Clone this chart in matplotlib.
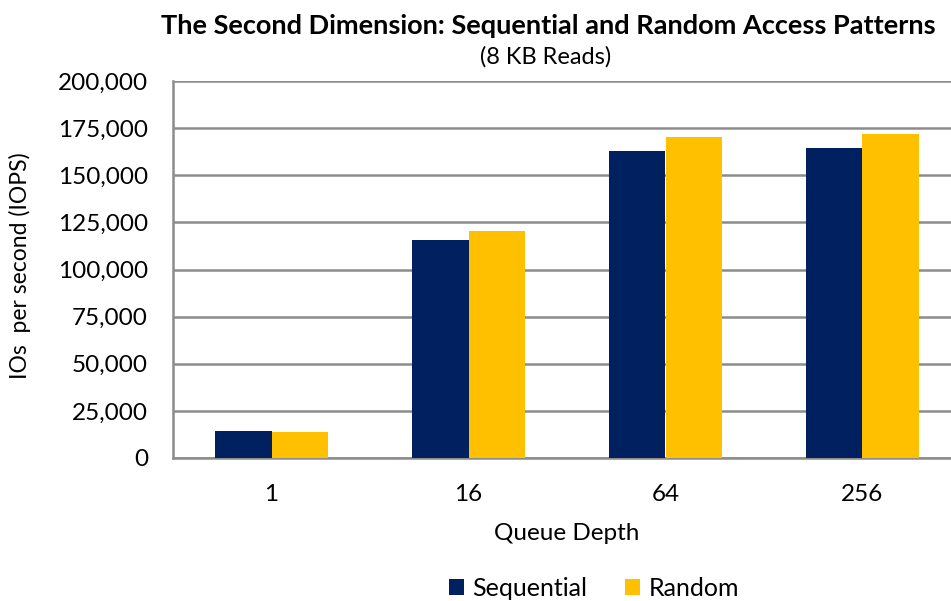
import numpy as np
import matplotlib
matplotlib.use('Agg')
import matplotlib.pyplot as plt
from matplotlib.ticker import FuncFormatter

# queue depths and IOPS
queue_depths = ['1', '16', '64', '256']
sequential = [14300, 115800, 163100, 164700]
random_io = [13800, 120200, 170200, 172000]

navy = '#002060'
gold = '#FFC000'
grid_gray = '#8c8c8c'

plt.rcParams['font.family'] = ['Lato', 'DejaVu Sans']

fig = plt.figure(figsize=(9.51, 6.01), dpi=100)
# plot area runs off the right edge, like the original
ax = fig.add_axes([173 / 951, (601 - 458) / 601, 788 / 951, 377 / 601])

x = np.arange(len(queue_depths))
w = 0.285
ax.bar(x - w / 2, sequential, w, color=navy, label='Sequential', zorder=3)
ax.bar(x + w / 2, random_io, w, color=gold, label='Random', zorder=3)

ax.set_xlim(-0.5, len(queue_depths) - 0.5)
ax.set_ylim(0, 200000)
ax.set_yticks(np.arange(0, 200001, 25000))
ax.yaxis.set_major_formatter(FuncFormatter(lambda v, p: f'{int(v):,}'))
ax.set_xticks(x)
ax.set_xticklabels(queue_depths)
ax.tick_params(length=0, labelsize=17.5, colors='black')
ax.tick_params(axis='y', pad=18)
ax.tick_params(axis='x', pad=19)

ax.grid(axis='y', color=grid_gray, linewidth=1.8, zorder=0)
for side in ['top', 'right']:
    ax.spines[side].set_visible(False)
for side in ['left', 'bottom']:
    ax.spines[side].set_color(grid_gray)
    ax.spines[side].set_linewidth(1.8)

ax.set_xlabel('Queue Depth', fontsize=17.5, labelpad=13)
fig.text(20 / 951, 1 - 266 / 601, 'IOs  per second (IOPS)', fontsize=16.5,
         rotation=90, ha='center', va='center')

fig.text(548 / 951, 1 - 26 / 601,
         'The Second Dimension: Sequential and Random Access Patterns',
         fontsize=19.5, fontweight='bold', ha='center', va='center')
fig.text(546 / 951, 1 - 57 / 601, '(8 KB Reads)', fontsize=17,
         ha='center', va='center')

fig.legend(loc='center', bbox_to_anchor=(594 / 951, 1 - 588 / 601), ncol=2,
           frameon=False, fontsize=18, handlelength=0.6, handleheight=0.6,
           columnspacing=1.5, handletextpad=0.35)

fig.savefig('out.png', dpi=100)
